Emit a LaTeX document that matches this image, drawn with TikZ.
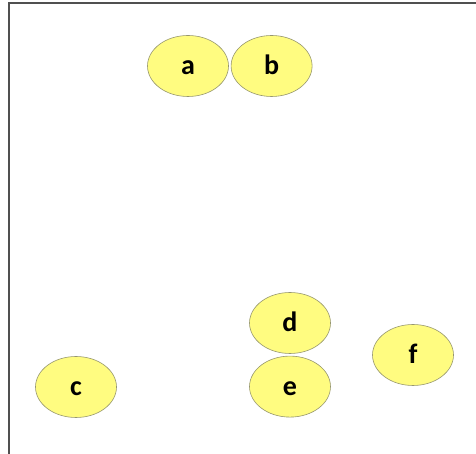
\documentclass[tikz,border=0pt]{standalone}
\usepackage{fontspec}
\setmainfont{Carlito}
\usepackage{tikz}
\usetikzlibrary{shapes.geometric, positioning}
\definecolor{vertexfill}{RGB}{255,252,128}
\definecolor{vertexline}{RGB}{150,150,110}
\definecolor{framegray}{RGB}{80,80,80}

\begin{document}
\begin{tikzpicture}[x=1pt, y=1pt, node distance=3pt and 3pt,
  vertex/.style={ellipse, draw=vertexline, fill=vertexfill, line width=0.6pt,
                 minimum width=81pt, minimum height=61pt, inner sep=0pt,
                 text height=18pt, text depth=0pt,
                 font=\fontsize{28}{32}\selectfont\bfseries},
]
\useasboundingbox (0,0) rectangle (476,454);

% frame (top and left edge only)
\draw[framegray, line width=2pt] (476,451) -- (8.5,451) -- (8.5,0);

% top pair
\node[vertex] (a) at (188,388) {a};
\node[vertex, right=2pt of a] (b) {b};

% bottom row
\node[vertex] (c) at (76,67) {c};
\node[vertex] (d) at (290,131) {d};
\node[vertex, below=2pt of d] (e) {e};
\node[vertex] (f) at (413,99) {f};

\end{tikzpicture}
\end{document}
